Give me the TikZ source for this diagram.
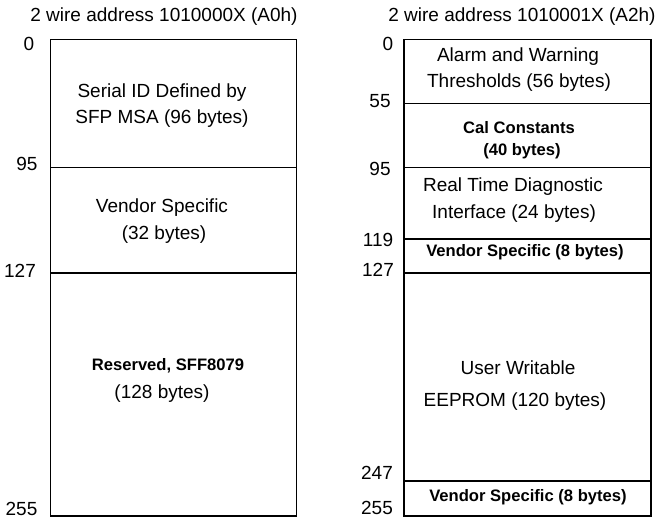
\documentclass[tikz,border=0pt]{standalone}
\usepackage{fontspec}
\setmainfont{Liberation Sans}
\begin{document}
\begin{tikzpicture}[x=1pt,y=-1pt,
  reg/.style={font=\fontsize{19}{22}\selectfont, inner sep=0pt, anchor=center},
  bld/.style={font=\fontsize{16.6}{20}\selectfont\bfseries, inner sep=0pt, anchor=center},
  seg/.style={draw=black, line width=1.5pt}]
\useasboundingbox[fill=white] (0,0) rectangle (663,522);
% titles
\node[reg] (tl) at (164,17) {2 wire address 1010000X (A0h)};
\node[reg] (tr) at (522,17) {2 wire address 1010001X (A2h)};
% left memory map
\draw[seg] (50.5,39.5) rectangle (296.5,516);
\draw[seg] (50.5,167.5) -- (296.5,167.5);
\draw[seg] (50.5,272.8) -- (296.5,272.8);
% right memory map
\draw[seg] (404,39.5) rectangle (651,516);
\draw[seg] (404,103.3) -- (651,103.3);
\draw[seg] (404,167.5) -- (651,167.5);
\draw[seg] (404,239) -- (651,239);
\draw[seg] (404,272.8) -- (651,272.8);
\draw[seg] (404,481) -- (651,481);
% left offsets
\node[reg] (l0) at (29,44) {0};
\node[reg] (l95) at (27,164) {95};
\node[reg] (l127) at (20,271) {127};
\node[reg] (l255) at (21.5,509) {255};
% right offsets
\node[reg] (r0) at (388,44) {0};
\node[reg] (r55) at (380,101) {55};
\node[reg] (r95) at (380,169) {95};
\node[reg] (r119) at (378,240) {119};
\node[reg] (r127) at (378,270) {127};
\node[reg] (r247) at (377,473) {247};
\node[reg] (r255) at (377,508) {255};
% left contents
\node[reg] (a1) at (162,93) {Serial ID Defined by};
\node[reg] (a2) at (162,119) {SFP MSA (96 bytes)};
\node[reg] (b1) at (162,208) {Vendor Specific};
\node[reg] (b2) at (164,235) {(32 bytes)};
\node[bld] (c1) at (168,366) {Reserved, SFF8079};
\node[reg] (c2) at (162,394) {(128 bytes)};
% right contents
\node[reg] (d1) at (518,57) {Alarm and Warning};
\node[reg] (d2) at (519,83) {Thresholds (56 bytes)};
\node[bld] (e1) at (519,128) {Cal Constants};
\node[bld] (e2) at (522,151) {(40 bytes)};
\node[reg] (f1) at (513,187) {Real Time Diagnostic};
\node[reg] (f2) at (514,214) {Interface (24 bytes)};
\node[bld] (g1) at (525,252) {Vendor Specific (8 bytes)};
\node[reg] (h1) at (518,368) {User Writable};
\node[reg] (h2) at (515,402) {EEPROM (120 bytes)};
\node[bld] (i1) at (528,497) {Vendor Specific (8 bytes)};
\end{tikzpicture}
\end{document}
